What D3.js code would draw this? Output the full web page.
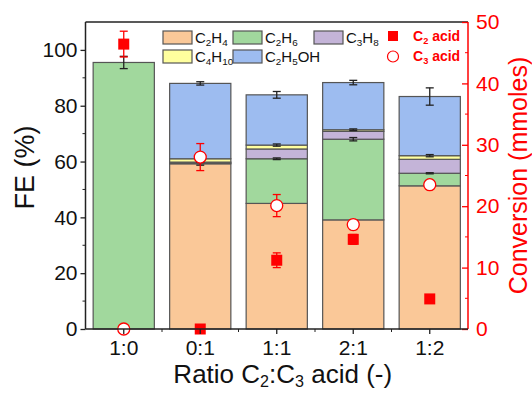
<!DOCTYPE html>
<html>
<head>
<meta charset="utf-8">
<script src="https://cdn.jsdelivr.net/npm/d3@7"></script>
<style>
  html, body { margin: 0; padding: 0; background: #fff; }
  svg text { font-family: "Liberation Sans", Arial, sans-serif; }
</style>
</head>
<body>
<div id="chart"></div>
<script>
// ---- Data
const categories = ['1:0', '0:1', '1:1', '2:1', '1:2'];
const species = ['C2H4', 'C2H6', 'C3H8', 'C4H10', 'C2H5OH'];
const speciesColors = ['#fac898', '#a1d89d', '#c4b4d8', '#ffff9e', '#9dbcf0'];

// Faradaic efficiency (%) per product
const feC2H4 = [0, 59.2, 45.0, 39.1, 51.3];
const feC2H6 = [95.5, 0.3, 16.0, 28.9, 4.5];
const feC3H8 = [0, 0.3, 3.5, 2.8, 5.0];
const feC4H10 = [0, 1.2, 1.4, 0.6, 1.3];
const feC2H5OH = [0, 27.0, 18.0, 16.9, 21.2];

// error on the cumulative top of each product segment (0 = none drawn)
const errC2H4 = [0, 0.5, 0, 0, 0];
const errC2H6 = [2.2, 0, 0.3, 0.6, 0.2];
const errC3H8 = [0, 0, 0, 0, 0];
const errC4H10 = [0, 0, 0.4, 0.3, 0.4];
const errC2H5OH = [0, 0.6, 1.2, 0.8, 3.1];

// Conversion (mmoles), right axis
const convC2 = [46.4, 0, 11.2, 14.6, 4.9];
const convC2Err = [2.1, 0, 1.2, 0.8, 0.5];
const convC3 = [0, 28.0, 20.1, 17.0, 23.5];
const convC3Err = [0, 2.2, 1.8, 0.8, 0.4];

const feTicks = [0, 20, 40, 60, 80, 100];
const convTicks = [0, 10, 20, 30, 40, 50];

const feSeries = [feC2H4, feC2H6, feC3H8, feC4H10, feC2H5OH];
const errSeries = [errC2H4, errC2H6, errC3H8, errC4H10, errC2H5OH];

// ---- Layout
const W = 532, H = 394;
const margin = { left: 85.5, right: 64, top: 22, bottom: 65 };
const plotW = W - margin.left - margin.right;
const plotH = H - margin.top - margin.bottom;
const RED = '#ff0000';

const svg = d3.select('#chart').append('svg')
    .attr('width', W).attr('height', H);

// ---- Scales
const x = d3.scaleBand().domain(categories).range([0, plotW]).padding(0);
const barW = x.bandwidth() * 0.8;
const yFE = d3.scaleLinear().domain([0, 110]).range([plotH, 0]);
const yConv = d3.scaleLinear().domain([0, 50]).range([plotH, 0]);

const g = svg.append('g').attr('transform', `translate(${margin.left},${margin.top})`);

// ---- Stacked rows
const rows = categories.map((c, i) => {
    const r = { cat: c };
    species.forEach((s, k) => { r[s] = feSeries[k][i]; });
    return r;
});
const stacked = d3.stack().keys(species)(rows);

// ---- Bars
g.selectAll('.layer')
    .data(stacked)
    .join('g')
    .attr('class', 'layer')
    .attr('fill', (_d, k) => speciesColors[k])
    .selectAll('rect')
    .data(d => d.filter(p => p[1] - p[0] > 0))
    .join('rect')
    .attr('x', d => x(d.data.cat) + (x.bandwidth() - barW) / 2)
    .attr('y', d => yFE(d[1]))
    .attr('width', barW)
    .attr('height', d => yFE(d[0]) - yFE(d[1]))
    .attr('stroke', '#555')
    .attr('stroke-width', 1.2);

// ---- Black error bars on segment tops
const errData = [];
stacked.forEach((layer, k) => {
    layer.forEach((p, i) => {
        const e = errSeries[k][i];
        if (e > 0) errData.push({ cat: categories[i], v: p[1], e: e });
    });
});
function errorBar(sel, data, yScale, color, cap) {
    const eg = sel.selectAll(null).data(data).join('g')
        .attr('transform', d => `translate(${x(d.cat) + x.bandwidth() / 2},0)`)
        .attr('stroke', color).attr('stroke-width', 1.3);
    eg.append('line').attr('y1', d => yScale(d.v - d.e)).attr('y2', d => yScale(d.v + d.e));
    eg.append('line').attr('x1', -cap).attr('x2', cap)
        .attr('y1', d => yScale(d.v + d.e)).attr('y2', d => yScale(d.v + d.e));
    eg.append('line').attr('x1', -cap).attr('x2', cap)
        .attr('y1', d => yScale(d.v - d.e)).attr('y2', d => yScale(d.v - d.e));
}
errorBar(g.append('g'), errData, yFE, '#222', 4);

// ---- Conversion points (right axis)
const c2Data = categories.map((c, i) => ({ cat: c, v: convC2[i], e: convC2Err[i] }));
const c3Data = categories.map((c, i) => ({ cat: c, v: convC3[i], e: convC3Err[i] }));
errorBar(g.append('g'), c2Data.filter(d => d.e > 0), yConv, RED, 4);
errorBar(g.append('g'), c3Data.filter(d => d.e > 0), yConv, RED, 4);

g.append('g').selectAll('rect')
    .data(c2Data)
    .join('rect')
    .attr('x', d => x(d.cat) + x.bandwidth() / 2 - 5.5)
    .attr('y', d => yConv(d.v) - 5.5)
    .attr('width', 11).attr('height', 11)
    .attr('fill', RED);

g.append('g').selectAll('circle')
    .data(c3Data)
    .join('circle')
    .attr('cx', d => x(d.cat) + x.bandwidth() / 2)
    .attr('cy', d => yConv(d.v))
    .attr('r', 6)
    .attr('fill', '#fff')
    .attr('stroke', RED)
    .attr('stroke-width', 1.3);

// ---- Axes
const tickFont = 21;

// top frame line
g.append('line').attr('x1', 0).attr('x2', plotW).attr('y1', 0).attr('y2', 0)
    .attr('stroke', '#222').attr('stroke-width', 1.5);

// left axis
const yLeft = g.append('g')
    .call(d3.axisLeft(yFE).tickValues(feTicks).tickSize(5).tickPadding(3));
yLeft.append('g').selectAll('line')
    .data(d3.range(10, 110, 20))
    .join('line')
    .attr('x1', -3).attr('x2', 0)
    .attr('y1', d => yFE(d)).attr('y2', d => yFE(d))
    .attr('stroke', '#222');
yLeft.select('.domain').attr('d', `M0,${plotH}V0`).attr('stroke', '#222').attr('stroke-width', 1.5);
yLeft.selectAll('.tick line').attr('stroke', '#222').attr('stroke-width', 1.3);
yLeft.selectAll('text').attr('font-size', tickFont).attr('fill', '#111')
    .attr('font-family', '"Liberation Sans", Arial, sans-serif');

// right axis (ticks inward)
const yRight = g.append('g').attr('transform', `translate(${plotW},0)`)
    .call(d3.axisRight(yConv).tickValues(convTicks).tickSize(0).tickPadding(8));
yRight.selectAll('.tick').append('line')
    .attr('x1', -6).attr('x2', 0).attr('stroke', RED).attr('stroke-width', 1.3);
yRight.append('g').selectAll('line')
    .data(d3.range(5, 50, 10))
    .join('line')
    .attr('x1', -3).attr('x2', 0)
    .attr('y1', d => yConv(d)).attr('y2', d => yConv(d))
    .attr('stroke', RED);
yRight.select('.domain').attr('d', `M0,${plotH}V0`).attr('stroke', RED).attr('stroke-width', 1.5);
yRight.selectAll('text').attr('font-size', tickFont).attr('fill', RED)
    .attr('font-family', '"Liberation Sans", Arial, sans-serif');

// bottom axis
const xAxis = g.append('g').attr('transform', `translate(0,${plotH})`)
    .call(d3.axisBottom(x).tickSize(5).tickPadding(6));
xAxis.append('g').selectAll('line')
    .data(categories.slice(1))
    .join('line')
    .attr('x1', d => x(d)).attr('x2', d => x(d))
    .attr('y1', 0).attr('y2', 3)
    .attr('stroke', '#222');
xAxis.select('.domain').attr('d', `M0,0H${plotW}`).attr('stroke', '#222').attr('stroke-width', 1.5);
xAxis.selectAll('.tick line').attr('stroke', '#222').attr('stroke-width', 1.3);
xAxis.selectAll('text').attr('font-size', tickFont).attr('fill', '#111')
    .attr('font-family', '"Liberation Sans", Arial, sans-serif');

// ---- Text with chemical subscripts (digits after a letter)
function chemText(sel, str, size, shift = 0.2, ratio = 0.66) {
    const parts = str.split(/(\d+)/).filter(p => p.length);
    let shifted = false;
    parts.forEach((p, i) => {
        const isSub = /^\d+$/.test(p) && i > 0;
        const t = sel.append('tspan').text(p);
        if (isSub) {
            t.attr('font-size', size * ratio).attr('dy', size * shift);
            shifted = true;
        } else if (shifted) {
            t.attr('dy', -size * shift);
            shifted = false;
        }
    });
    return sel;
}

// axis titles
const titleFont = 26;
chemText(svg.append('text')
    .attr('x', margin.left + plotW / 2 + 6).attr('y', 383)
    .attr('text-anchor', 'middle')
    .attr('font-size', titleFont).attr('fill', '#111'), 'Ratio C2:C3 acid (-)', titleFont, 0.16, 0.62);

svg.append('text')
    .attr('transform', `translate(34,${margin.top + plotH / 2 - 8}) rotate(-90)`)
    .attr('text-anchor', 'middle')
    .attr('font-size', titleFont + 1).attr('fill', '#111')
    .text('FE (%)');

svg.append('text')
    .attr('transform', `translate(527,${margin.top + plotH / 2}) rotate(-90)`)
    .attr('text-anchor', 'middle')
    .attr('font-size', 25).attr('fill', RED)
    .text('Conversion (mmoles)');

// ---- Legend (products)
const legendFont = 15;
const legendCols = [163, 233, 314];
const legendRows = [31, 50];
const legend = svg.append('g');
species.forEach((s, k) => {
    const col = legendCols[k % 3], row = legendRows[Math.floor(k / 3)];
    legend.append('rect')
        .attr('x', col).attr('y', row).attr('width', 29).attr('height', 13)
        .attr('fill', speciesColors[k]).attr('stroke', '#555').attr('stroke-width', 1.2);
    chemText(legend.append('text')
        .attr('x', col + 32).attr('y', row + 12)
        .attr('font-size', legendFont).attr('fill', '#111'), s, legendFont);
});

// ---- Legend (conversion)
legend.append('rect').attr('x', 388).attr('y', 31).attr('width', 10).attr('height', 10).attr('fill', RED);
legend.append('circle').attr('cx', 393).attr('cy', 56.5).attr('r', 5.5)
    .attr('fill', '#fff').attr('stroke', RED).attr('stroke-width', 1.2);
chemText(legend.append('text').attr('x', 413).attr('y', 41)
    .attr('font-size', 14).attr('font-weight', 'bold').attr('fill', RED), 'C2 acid', 14);
chemText(legend.append('text').attr('x', 413).attr('y', 61)
    .attr('font-size', 14).attr('font-weight', 'bold').attr('fill', RED), 'C3 acid', 14);
</script>
</body>
</html>
